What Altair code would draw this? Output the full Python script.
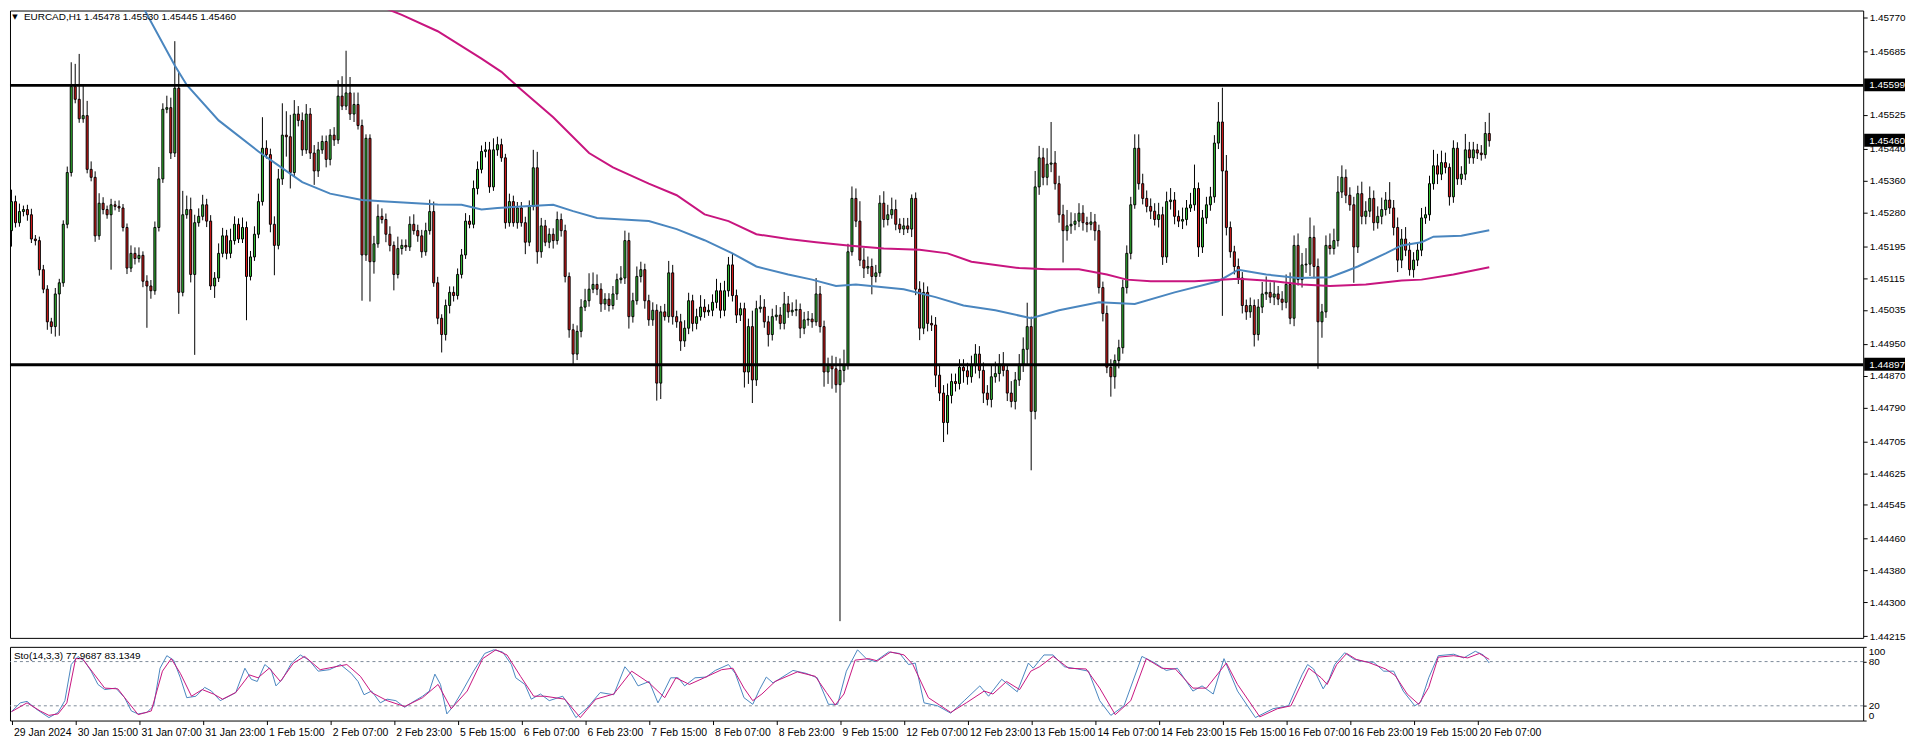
import altair as alt
import pandas as pd

BASE = 1.44  # prices are stored in points (1e-5) above this base
FONT = "Liberation Sans"

FIRST_OPEN = 1234
CLOSE = [
    1307, 1254, 1282, 1287, 1274, 1213, 1209, 1136, 1087, 1005,
    993, 1075, 1103, 1250, 1380, 1596, 1564, 1515, 1523, 1388,
    1368, 1221, 1303, 1287, 1274, 1299, 1295, 1291, 1242, 1140,
    1177, 1164, 1172, 1107, 1095, 1083, 1242, 1364, 1539, 1543,
    1429, 1592, 1079, 1274, 1287, 1124, 1254, 1270, 1299, 1258,
    1095, 1115, 1177, 1221, 1177, 1209, 1250, 1213, 1242, 1119,
    1168, 1225, 1307, 1441, 1425, 1250, 1197, 1364, 1474, 1470,
    1380, 1527, 1511, 1437, 1527, 1429, 1384, 1437, 1458, 1413,
    1474, 1462, 1572, 1547, 1580, 1527, 1551, 1498, 1173, 1466,
    1156, 1201, 1270, 1262, 1225, 1197, 1124, 1189, 1197, 1193,
    1250, 1234, 1221, 1181, 1234, 1282, 1103, 1014, 973, 1046,
    1079, 1071, 1124, 1173, 1258, 1250, 1340, 1388, 1433, 1437,
    1344, 1437, 1450, 1417, 1254, 1307, 1254, 1291, 1254, 1205,
    1295, 1392, 1181, 1246, 1205, 1225, 1209, 1262, 1234, 1119,
    985, 924, 981, 1042, 1058, 1087, 1099, 1087, 1050, 1062,
    1046, 1075, 1111, 1115, 1209, 1018, 1058, 1119, 1136, 1058,
    1010, 1034, 851, 1030, 1018, 1128, 1018, 1005, 957, 989,
    1058, 1001, 1018, 1042, 1030, 1034, 1054, 1083, 1034, 1083,
    1148, 1071, 1022, 1038, 879, 993, 859, 1038, 1042, 1005,
    973, 1018, 1022, 1001, 1050, 1030, 1034, 1036, 989, 1010,
    1012, 1005, 1075, 993, 879, 895, 887, 847, 883, 895,
    1181, 1315, 1258, 1160, 1140, 1144, 1119, 1128, 1303, 1262,
    1274, 1287, 1250, 1238, 1246, 1238, 1315, 1087, 989, 1079,
    1001, 997, 871, 826, 752, 820, 855, 850, 891, 882,
    867, 895, 924, 883, 826, 810, 867, 875, 899, 883,
    826, 805, 859, 899, 936, 993, 780, 1344, 1417, 1368,
    1401, 1404, 1352, 1274, 1234, 1246, 1250, 1258, 1278, 1254,
    1250, 1256, 1234, 1091, 1026, 891, 867, 908, 940, 1091,
    1177, 1299, 1441, 1352, 1315, 1295, 1283, 1262, 1274, 1168,
    1307, 1311, 1270, 1258, 1262, 1291, 1299, 1340, 1193, 1266,
    1299, 1319, 1454, 1507, 1384, 1242, 1181, 1144, 1115, 1046,
    1030, 1046, 973, 1042, 1075, 1079, 1067, 1075, 1062, 1054,
    1099, 1014, 1197, 1111, 1148, 1150, 1217, 1144, 1005, 1030,
    1197, 1189, 1209, 1331, 1368, 1323, 1299, 1193, 1327, 1270,
    1283, 1315, 1254, 1270, 1287, 1311, 1291, 1242, 1160, 1213,
    1185, 1136, 1160, 1185, 1266, 1274, 1352, 1397, 1376, 1405,
    1393, 1319, 1441, 1364, 1376, 1437, 1417, 1437, 1429, 1425,
    1478, 1460,
]
UPPER_WICK = [
    30, 15, 20, 10, 12, 15, 10, 10, 12, 10,
    10, 15, 10, 10, 15, 61, 57, 114, 77, 37,
    20, 15, 25, 15, 10, 15, 10, 15, 10, 10,
    20, 15, 20, 10, 15, 15, 15, 30, 15, 30,
    25, 118, 40, 60, 35, 30, 20, 20, 25, 15,
    15, 15, 25, 20, 15, 30, 20, 15, 25, 15,
    15, 20, 20, 78, 20, 15, 20, 25, 80, 60,
    55, 35, 20, 20, 25, 15, 20, 20, 15, 15,
    15, 20, 40, 50, 106, 40, 30, 30, 15, 10,
    10, 20, 30, 20, 15, 20, 10, 30, 15, 15,
    20, 25, 15, 15, 20, 30, 25, 15, 10, 15,
    15, 15, 15, 15, 20, 15, 20, 20, 15, 20,
    20, 29, 20, 15, 10, 20, 15, 15, 15, 15,
    15, 45, 40, 20, 15, 15, 15, 20, 15, 15,
    10, 15, 15, 20, 30, 40, 30, 25, 15, 15,
    15, 20, 15, 30, 25, 20, 20, 25, 20, 15,
    15, 20, 15, 15, 20, 30, 20, 15, 20, 20,
    20, 15, 20, 30, 20, 15, 20, 30, 20, 25,
    20, 30, 15, 15, 15, 20, 40, 20, 30, 20,
    15, 20, 25, 20, 30, 20, 20, 25, 15, 20,
    20, 15, 40, 20, 15, 20, 25, 30, 30, 40,
    20, 30, 25, 50, 30, 25, 20, 20, 20, 30,
    25, 30, 25, 15, 20, 20, 10, 15, 20, 25,
    15, 20, 20, 25, 20, 30, 20, 20, 20, 20,
    20, 25, 25, 20, 20, 20, 30, 30, 25, 30,
    15, 30, 20, 25, 30, 60, 25, 40, 30, 25,
    40, 103, 30, 20, 25, 40, 30, 20, 25, 20,
    15, 25, 20, 15, 15, 20, 20, 15, 20, 20,
    20, 20, 35, 35, 25, 20, 20, 20, 30, 20,
    25, 30, 20, 15, 30, 20, 30, 60, 15, 20,
    20, 25, 20, 50, 86, 40, 15, 15, 20, 15,
    15, 20, 15, 20, 30, 40, 25, 30, 20, 20,
    25, 30, 25, 30, 30, 40, 50, 30, 20, 20,
    25, 30, 30, 40, 30, 20, 20, 20, 20, 30,
    25, 30, 20, 25, 30, 20, 45, 20, 25, 25,
    30, 20, 20, 20, 25, 20, 20, 40, 30, 30,
    25, 10, 20, 15, 20, 40, 20, 20, 15, 20,
    29, 52,
]
LOWER_WICK = [
    40, 12, 10, 12, 15, 10, 12, 15, 10, 20,
    18, 25, 105, 10, 10, 10, 10, 10, 10, 10,
    10, 15, 10, 12, 10, 138, 10, 10, 10, 15,
    10, 15, 10, 15, 105, 20, 10, 10, 10, 10,
    15, 10, 54, 10, 10, 20, 202, 10, 10, 15,
    10, 30, 10, 10, 15, 12, 10, 10, 10, 110,
    10, 10, 10, 10, 10, 20, 75, 10, 15, 50,
    40, 10, 15, 15, 10, 15, 35, 15, 10, 20,
    15, 15, 10, 10, 10, 15, 20, 10, 115, 15,
    100, 30, 10, 10, 20, 15, 40, 10, 15, 10,
    10, 10, 15, 15, 10, 10, 10, 15, 45, 15,
    20, 15, 10, 10, 10, 10, 10, 15, 10, 15,
    15, 10, 15, 10, 15, 10, 10, 15, 10, 30,
    10, 10, 30, 15, 10, 15, 20, 10, 15, 15,
    20, 25, 15, 15, 10, 15, 10, 15, 20, 15,
    15, 10, 15, 10, 15, 30, 15, 10, 15, 20,
    15, 15, 44, 40, 10, 15, 20, 15, 25, 15,
    15, 20, 15, 10, 15, 10, 15, 15, 20, 15,
    15, 15, 20, 15, 39, 30, 58, 15, 10, 15,
    30, 15, 10, 15, 15, 15, 10, 15, 25, 15,
    15, 15, 10, 15, 37, 30, 50, 20, 594, 30,
    10, 10, 15, 15, 25, 15, 45, 15, 10, 20,
    15, 10, 15, 10, 15, 10, 20, 15, 30, 15,
    20, 15, 30, 20, 49, 30, 20, 20, 15, 30,
    20, 15, 20, 20, 25, 15, 20, 15, 20, 15,
    20, 15, 20, 15, 20, 40, 148, 20, 20, 20,
    20, 20, 15, 20, 80, 25, 20, 15, 15, 20,
    20, 15, 25, 15, 20, 15, 50, 30, 20, 15,
    15, 15, 10, 15, 15, 15, 20, 15, 20, 20,
    15, 20, 20, 15, 20, 15, 10, 15, 25, 15,
    15, 15, 15, 15, 364, 20, 15, 20, 15, 20,
    20, 15, 30, 15, 15, 15, 15, 20, 15, 20,
    15, 15, 20, 15, 20, 20, 30, 30, 118, 40,
    15, 15, 15, 15, 15, 20, 15, 90, 15, 20,
    20, 15, 20, 15, 20, 15, 15, 20, 30, 20,
    15, 15, 20, 15, 15, 15, 15, 15, 25, 15,
    15, 22, 15, 15, 15, 15, 15, 15, 15, 15,
    10, 15,
]

BLUE_IDX = [25, 33, 41, 44, 52, 62, 66, 73, 80, 88, 94, 107, 113, 118, 122, 128, 136, 141, 147, 160,
            167, 174, 181, 187, 195, 201, 207, 212, 224, 232, 239, 247, 256, 263, 273, 282, 292, 303, 308, 315,
            323, 331, 335, 338, 345, 349, 354, 357, 364, 371]
BLUE_VAL = [1940, 1796, 1649, 1600, 1511, 1433, 1405, 1356, 1327, 1311, 1307, 1300, 1299, 1287, 1291, 1295, 1299, 1283, 1266, 1258,
            1238, 1210, 1177, 1144, 1124, 1111, 1095, 1099, 1087, 1067, 1046, 1034, 1014, 1034, 1054, 1050, 1079, 1107, 1136, 1124,
            1115, 1117, 1132, 1144, 1177, 1197, 1205, 1219, 1221, 1235]
PINK_IDX = [88, 94, 98, 107, 118, 123, 128, 136, 145, 151, 160, 167, 174, 180, 187, 195, 202, 210, 219, 228,
            235, 241, 253, 260, 268, 275, 280, 286, 297, 308, 317, 324, 331, 340, 349, 354, 362, 371]
PINK_VAL = [1840, 1792, 1776, 1735, 1666, 1633, 1588, 1519, 1429, 1393, 1352, 1323, 1275, 1258, 1225, 1213, 1205, 1197, 1189, 1186,
            1177, 1156, 1140, 1137, 1137, 1124, 1111, 1107, 1107, 1113, 1107, 1099, 1095, 1099, 1109, 1111, 1124, 1142]

K_X = [0, 2.2, 3.9, 6.1, 9.4, 11.7, 13.4, 15, 16.7, 18.4,
       20, 21.7, 23.4, 26.2, 28.4, 30.1, 31.8, 34, 35.7, 37.3,
       39, 40.7, 42.4, 44, 46.3, 48.5, 50.2, 52.4, 54.6, 56.3,
       58.6, 60.2, 61.7, 63.6, 65.2, 66.4, 68, 70.3, 72.5, 74.7,
       77, 79.8, 82.6, 85.3, 87, 88.5, 90.4, 92.6, 94.3, 96.5,
       98.7, 100.4, 103.2, 104.9, 106.3, 107.7, 109.3, 111, 113.2, 116,
       118.8, 121.1, 123.3, 125.5, 126.6, 128.9, 130.5, 132.8, 135, 138.4,
       140, 141.7, 144.5, 147.8, 151.2, 154, 155.7, 157.3, 160.1, 162.3,
       163.5, 165.5, 167.4, 169, 171.6, 174.4, 176.7, 180, 181.7, 183.9,
       186.1, 187.8, 189.5, 191.2, 196.2, 199.5, 202.3, 205.1, 207.4, 209.6,
       212.4, 214.6, 216.8, 220.2, 223, 225.2, 226.9, 229.1, 232.5, 235.8,
       239.2, 243.1, 245.3, 248.6, 252.5, 255.3, 256.5, 259.2, 261.5, 264.3,
       267.6, 270.4, 273.2, 276, 279.3, 283.8, 287.1, 289.9, 292.7, 296.6,
       298.9, 301.7, 304.4, 307.8, 312.3, 316.7, 320.6, 324, 325.4, 326.9,
       329.3, 330.8, 332.2, 334.7, 337.1, 339.6, 342, 344.5, 347, 349.4,
       352.3, 353.8, 355.8, 358.2, 362.1, 364.6, 367.5, 369.5, 371]
K_Y = [12, 24, 26, 16, 4, 11, 27, 76, 87, 80,
       67, 49, 42, 44, 31, 13, 9, 11, 20, 71,
       88, 82, 58, 31, 33, 45, 40, 27, 33, 38,
       71, 56, 53, 76, 69, 47, 56, 78, 89, 82,
       67, 69, 76, 64, 53, 35, 40, 24, 29, 27,
       18, 24, 33, 40, 63, 49, 9, 20, 40, 67,
       91, 96, 93, 76, 58, 49, 29, 36, 27, 33,
       20, 4, 17, 38, 35, 73, 62, 47, 53, 24,
       36, 58, 58, 47, 58, 59, 68, 76, 64, 31,
       22, 42, 59, 51, 68, 64, 58, 22, 22, 67,
       96, 84, 80, 93, 91, 76, 78, 24, 20, 10,
       27, 47, 33, 56, 39, 78, 71, 89, 89, 73,
       70, 67, 27, 7, 20, 87, 78, 68, 71, 40,
       47, 36, 84, 40, 4, 16, 20, 62, 76, 70,
       43, 56, 76, 92, 83, 80, 79, 67, 67, 40,
       20, 25, 58, 88, 90, 85, 94, 89, 78]
D_X = [0, 3.9, 7.2, 9.4, 11.7, 13.9, 16.1, 17.8, 20.6, 23.4,
       26.7, 29, 31.8, 35.1, 37.9, 40.1, 42.4, 45.2, 47.9, 50.7,
       53, 56.3, 59.7, 61.9, 64.7, 67.5, 70.8, 73.6, 77.5, 84.2,
       87.6, 90.4, 94.3, 98.7, 103.2, 107.1, 110.4, 114.4, 118.3, 121.6,
       124.4, 127.8, 131.1, 133.9, 138.9, 142.8, 146.7, 151.2, 155.7, 160.1,
       164, 166.8, 170.2, 173.9, 178.3, 181.1, 183.9, 186.1, 188.4, 191.7,
       197.3, 201.8, 204.6, 206.8, 209, 211.8, 215.2, 217.4, 220.7, 224.1,
       226.3, 230.2, 233, 235.8, 239.7, 244.2, 246.4, 249.8, 253.1, 255.9,
       258.1, 261.5, 265.4, 269.8, 273.2, 277.1, 281, 284.9, 288.8, 292.2,
       296.6, 300, 305, 307.8, 313.4, 317.8, 321.2, 325.7, 328.8, 330.3,
       332.7, 335.2, 337.6, 340.6, 345, 347.4, 350.4, 353.3, 355.8, 358.2,
       362.1, 365.6, 368.5, 371]
D_Y = [12, 24, 13, 7, 9, 24, 84, 84, 64, 44,
       43, 27, 8, 13, 67, 84, 64, 33, 42, 36,
       29, 38, 62, 58, 71, 53, 78, 87, 69, 76,
       60, 38, 27, 19, 31, 49, 16, 40, 84, 96,
       89, 60, 33, 33, 29, 4, 29, 36, 67, 51,
       31, 58, 49, 58, 69, 71, 44, 27, 36, 53,
       66, 60, 38, 21, 36, 82, 84, 81, 93, 89,
       76, 31, 21, 11, 24, 40, 36, 53, 42, 67,
       73, 87, 71, 70, 44, 8, 27, 84, 71, 70,
       44, 44, 78, 49, 5, 16, 20, 71, 58, 49,
       76, 91, 83, 79, 70, 61, 36, 22, 45, 86,
       88, 85, 91, 83]

LEVELS = [1.45599, 1.44897]
CURRENT = 1.45460
Y_TICKS = [1.45770, 1.45685, 1.45525, 1.45440, 1.45360, 1.45280, 1.45195, 1.45115, 1.45035,
           1.44950, 1.44870, 1.44790, 1.44705, 1.44625, 1.44545, 1.44460, 1.44380, 1.44300, 1.44215]
X_LABELS = ['29 Jan 2024', '30 Jan 15:00', '31 Jan 07:00', '31 Jan 23:00', '1 Feb 15:00', '2 Feb 07:00',
            '2 Feb 23:00', '5 Feb 15:00', '6 Feb 07:00', '6 Feb 23:00', '7 Feb 15:00', '8 Feb 07:00',
            '8 Feb 23:00', '9 Feb 15:00', '12 Feb 07:00', '12 Feb 23:00', '13 Feb 15:00', '14 Feb 07:00',
            '14 Feb 23:00', '15 Feb 15:00', '16 Feb 07:00', '16 Feb 23:00', '19 Feb 15:00', '20 Feb 07:00']
TITLE = "EURCAD,H1  1.45478 1.45530 1.45445 1.45460"
STO_TITLE = "Sto(14,3,3) 77.9687 83.1349"

GREEN = "#33BF33"
RED = "#E31B1B"
BLUE = "#4A86BF"
PINK = "#C8157F"

# ---------- build tables ----------
n = min(len(CLOSE), len(UPPER_WICK), len(LOWER_WICK))
opens = [FIRST_OPEN] + CLOSE[:-1]
rows = []
for i in range(n):
    o, c = opens[i], CLOSE[i]
    hi = max(o, c) + UPPER_WICK[i]
    lo = min(o, c) - LOWER_WICK[i]
    rows.append(dict(i=i, open=BASE + o / 1e5, close=BASE + c / 1e5,
                     high=BASE + hi / 1e5, low=BASE + lo / 1e5,
                     dir="up" if c >= o else "down"))
candles = pd.DataFrame(rows)
blue_df = pd.DataFrame({"i": BLUE_IDX, "p": [BASE + v / 1e5 for v in BLUE_VAL]})
pink_df = pd.DataFrame({"i": PINK_IDX, "p": [BASE + v / 1e5 for v in PINK_VAL]})
k_df = pd.DataFrame({"i": K_X[:len(K_Y)], "v": K_Y[:len(K_X)]})
d_df = pd.DataFrame({"i": D_X[:len(D_Y)], "v": D_Y[:len(D_X)]})
lev_df = pd.DataFrame({"p": LEVELS})
hl_vals = LEVELS + [CURRENT]
hl_df = pd.DataFrame({"p": hl_vals, "p2": hl_vals, "label": [f"{v:.5f}" for v in hl_vals]})

W = 1861
H1 = 630
H2 = 74

xs = alt.Scale(domain=[-0.375, (W - 1.5) / 4.0], nice=False, zero=False)
ys = alt.Scale(domain=[1.44211, 1.45787], nice=False, zero=False)
ss = alt.Scale(domain=[0, 100], nice=False, zero=False)

YAX = alt.Axis(orient="right", values=Y_TICKS, format=".5f", tickSize=4, labelPadding=2,
               labelFont=FONT, labelFontSize=10, labelColor="black", tickColor="black",
               domain=False, grid=False, title=None, labelFlush=False, labelOverlap=False)
SAX = alt.Axis(orient="right", values=[0, 20, 80, 100], tickSize=3, labelPadding=2,
               labelFont=FONT, labelFontSize=10, labelColor="black", tickColor="black",
               domain=False, grid=False, title=None, labelFlush=True, labelOverlap=False)
label_arr = "[" + ",".join("'" + s + "'" for s in X_LABELS) + "]"
XAX = alt.Axis(values=list(range(0, 16 * len(X_LABELS), 16)),
               labelExpr=label_arr + "[round(datum.value / 16)]",
               labelAlign="left", labelOffset=2, labelPadding=3, tickSize=4,
               labelFont=FONT, labelFontSize=10.5, labelColor="black", tickColor="black",
               domain=False, grid=False, title=None, labelFlush=False, labelOverlap=False)


def X(field):
    return alt.X(field, type="quantitative", scale=xs, axis=None)


def Y(field):
    return alt.Y(field, type="quantitative", scale=ys, axis=YAX)


wicks = alt.Chart(candles).mark_rule(color="black", strokeWidth=1).encode(
    x=X("i"), y=Y("low"), y2="high")
bodies = alt.Chart(candles).transform_calculate(
    xa="datum.i - 0.25", xb="datum.i + 0.25"
).mark_rect(stroke="black", strokeWidth=1).encode(
    x=X("xa"), x2="xb", y=Y("open"), y2="close",
    color=alt.Color("dir:N", scale=alt.Scale(domain=["up", "down"], range=[GREEN, RED]), legend=None))
blue_line = alt.Chart(blue_df).mark_line(color=BLUE, strokeWidth=2, clip=True).encode(x=X("i"), y=Y("p"))
pink_line = alt.Chart(pink_df).mark_line(color=PINK, strokeWidth=2, clip=True).encode(x=X("i"), y=Y("p"))
levels = alt.Chart(lev_df).mark_rule(color="black", strokeWidth=3).encode(y=Y("p"))
hl_box = alt.Chart(hl_df).mark_rect(color="black", yOffset=-7, y2Offset=6).encode(
    x=alt.value(W + 1), x2=alt.value(W + 42), y=Y("p"), y2="p2")
hl_txt = alt.Chart(hl_df).mark_text(color="white", align="left", baseline="middle",
                                    font=FONT, fontSize=10).encode(
    x=alt.value(W + 6), y=Y("p"), text="label:N")
title_txt = alt.Chart(pd.DataFrame({"t": [TITLE]})).mark_text(
    align="left", baseline="middle", font=FONT, fontSize=10, color="black").encode(
    x=alt.value(14), y=alt.value(7), text="t:N")
tri = alt.Chart(pd.DataFrame({"t": ["\u25BC"]})).mark_text(
    align="center", baseline="middle", font="DejaVu Sans", fontSize=7, color="black").encode(
    x=alt.value(5), y=alt.value(7), text="t:N")

main = alt.layer(wicks, bodies, blue_line, pink_line, levels, hl_box, hl_txt, title_txt, tri).properties(
    width=W, height=H1)


def SX(field):
    return alt.X(field, type="quantitative", scale=xs, axis=XAX)


def SY(field):
    return alt.Y(field, type="quantitative", scale=ss, axis=SAX)


dash = alt.Chart(pd.DataFrame({"v": [20, 80]})).mark_rule(
    color="#7D8A99", strokeDash=[3, 3], strokeWidth=1).encode(y=SY("v"))
k_line = alt.Chart(k_df).mark_line(color=BLUE, strokeWidth=1).encode(x=SX("i"), y=SY("v"))
d_line = alt.Chart(d_df).mark_line(color=PINK, strokeWidth=1).encode(x=SX("i"), y=SY("v"))
sto_txt = alt.Chart(pd.DataFrame({"t": [STO_TITLE]})).mark_text(
    align="left", baseline="middle", font=FONT, fontSize=10, color="black").encode(
    x=alt.value(4), y=alt.value(9), text="t:N")

sto = alt.layer(dash, k_line, d_line, sto_txt).properties(width=W, height=H2)

chart = alt.vconcat(main, sto, spacing=4).properties(
    padding={"left": 0, "top": 0, "right": 0, "bottom": 0}, background="white"
).configure_view(stroke="black", strokeWidth=1)

chart.save("out.html", embed_options={"renderer": "svg", "actions": False})
